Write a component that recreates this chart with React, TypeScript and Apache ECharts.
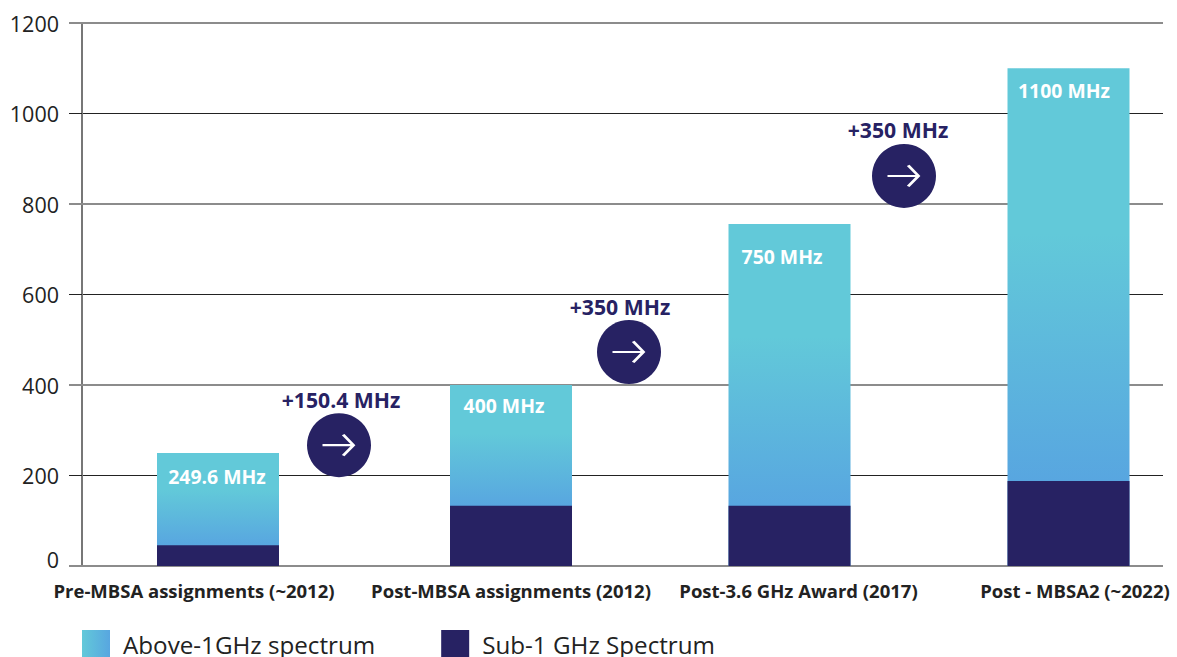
import React, { useEffect, useRef } from "react";
import * as echarts from "echarts";

const categories = ["Pre-MBSA assignments (~2012)", "Post-MBSA assignments (2012)", "Post-3.6 GHz Award (2017)", "Post - MBSA2 (~2022)"];
const barPositions = [136, 429, 707.5, 986.5];
const categoryLabelPositions = [112, 429, 716.5, 993];
const sub1Values = [46, 133, 133, 188];
const totalValues = [249.6, 400, 756, 1100];
const barLabels = ["249.6 MHz", "400 MHz", "750 MHz", "1100 MHz"];
const barLabelPoints = [[135, 198], [422, 354], [700, 685], [982, 1051]];
const deltaLabels = ["+150.4 MHz", "+350 MHz", "+350 MHz"];
const deltaLabelPoints = [[259, 369], [538, 574], [816, 965]];
const deltaCirclePoints = [[257, 267], [547, 473], [822, 862]];
const yTicks = { min: 0, max: 1200, interval: 200 };
const majorYTicks = { min: 0, max: 1200, interval: 400 };

const NAVY = "#272263";
const TEAL = "#62c9d9";
const BLUE = "#58a6e0";
const GRID_GRAY = "#8c8c8c";
const GRID_DARK = "#222222";
const FONT = "'Open Sans', sans-serif";

const legendGradient = new echarts.graphic.LinearGradient(0, 0, 1, 0, [
  { offset: 0, color: TEAL },
  { offset: 1, color: BLUE },
]);

// The tall bar runs to the axis; its gradient ends where the sub-1 GHz bar begins.
const totalBarStyle = (total: number, sub: number) => {
  const end = 1 - sub / total;
  return {
    color: new echarts.graphic.LinearGradient(0, 0, 0, 1, [
      { offset: 0, color: TEAL },
      { offset: end * 0.4, color: TEAL },
      { offset: end, color: BLUE },
      { offset: 1, color: BLUE },
    ]),
  };
};

const helper = (name: string, points: number[][], texts: string[], label: any) => ({
  name,
  type: "scatter",
  symbolSize: 1,
  silent: true,
  z: 5,
  itemStyle: { color: "transparent", opacity: 1 },
  label: { show: true, position: "inside", fontFamily: FONT, formatter: (p: any) => texts[p.dataIndex], ...label },
  data: points,
});

export default function App() {
  const ref = useRef<HTMLDivElement>(null);
  useEffect(() => {
    const chart = echarts.init(ref.current!, undefined, { renderer: "svg" });
    chart.setOption({
      animation: false,
      backgroundColor: "#ffffff",
      grid: { left: 82, top: 23, width: 1081, height: 543, containLabel: false },
      legend: {
        left: 82,
        top: 630,
        padding: 0,
        itemWidth: 28,
        itemHeight: 28,
        itemGap: 66,
        icon: "rect",
        textStyle: { fontFamily: FONT, fontSize: 24.2, color: "#222222", padding: [0, 0, 0, 8] },
        data: [
          { name: "Above-1GHz spectrum", itemStyle: { color: legendGradient } },
          { name: "Sub-1 GHz Spectrum", itemStyle: { color: NAVY } },
        ],
      },
      xAxis: {
        type: "value",
        min: 0,
        max: 1081,
        axisLabel: { show: false },
        axisTick: { show: false },
        splitLine: { show: false },
        axisLine: { show: false },
      },
      yAxis: [
        {
          type: "value",
          ...yTicks,
          axisLine: { show: true, lineStyle: { color: "#777777", width: 2 } },
          axisTick: { show: true, length: 13, lineStyle: { color: GRID_DARK, width: 1 } },
          axisLabel: {
            fontFamily: FONT,
            fontSize: 21.5,
            color: "#222222",
            margin: 23,
            formatter: (v: number) => (v === 0 ? "{zero|0}" : String(v)),
            rich: { zero: { fontFamily: FONT, fontSize: 21.5, color: "#222222", padding: [0, 0, 14, 0] } },
          },
          splitLine: { show: true, lineStyle: { color: ["transparent", GRID_DARK], width: 1 } },
        },
        {
          type: "value",
          position: "left",
          z: 1,
          ...majorYTicks,
          axisLine: { show: false },
          axisLabel: { show: false },
          axisTick: { show: true, length: 13, lineStyle: { color: GRID_GRAY, width: 2 } },
          splitLine: { show: true, lineStyle: { color: GRID_GRAY, width: 2 } },
        },
      ],
      series: [
        {
          name: "Above-1GHz spectrum",
          type: "bar",
          barWidth: 122,
          barGap: "-100%",
          data: barPositions.map((x, i) => ({
            value: [x, totalValues[i]],
            itemStyle: totalBarStyle(totalValues[i], sub1Values[i]),
          })),
        },
        {
          name: "Sub-1 GHz Spectrum",
          type: "bar",
          barWidth: 122,
          barGap: "-100%",
          itemStyle: { color: NAVY },
          data: barPositions.map((x, i) => [x, sub1Values[i]]),
        },
        {
          name: "circles",
          type: "scatter",
          symbol: "circle",
          symbolSize: 64,
          z: 4,
          silent: true,
          itemStyle: { color: NAVY, opacity: 1 },
          data: deltaCirclePoints,
        },
        {
          name: "arrows",
          type: "scatter",
          symbol: "path://M0 10H30M20 0L30 10L20 20",
          symbolSize: [31, 21],
          symbolOffset: [-1, 0],
          z: 5,
          silent: true,
          itemStyle: { color: "none", borderColor: "#ffffff", borderWidth: 2.6, opacity: 1 },
          data: deltaCirclePoints,
        },
        helper("barLabels", barLabelPoints, barLabels, { fontSize: 19.4, fontWeight: "bold", color: "#ffffff" }),
        helper("deltaLabels", deltaLabelPoints, deltaLabels, { fontSize: 21.2, fontWeight: "bold", color: NAVY }),
        helper(
          "categoryLabels",
          categoryLabelPositions.map((x) => [x, 0]),
          categories,
          { position: "bottom", distance: 14, fontSize: 18.5, fontWeight: "bold", color: "#222222" }
        ),
      ],
    });
    return () => chart.dispose();
  }, []);
  return <div ref={ref} style={{ position: "fixed", left: 0, top: 0, width: 1177, height: 657 }} />;
}
